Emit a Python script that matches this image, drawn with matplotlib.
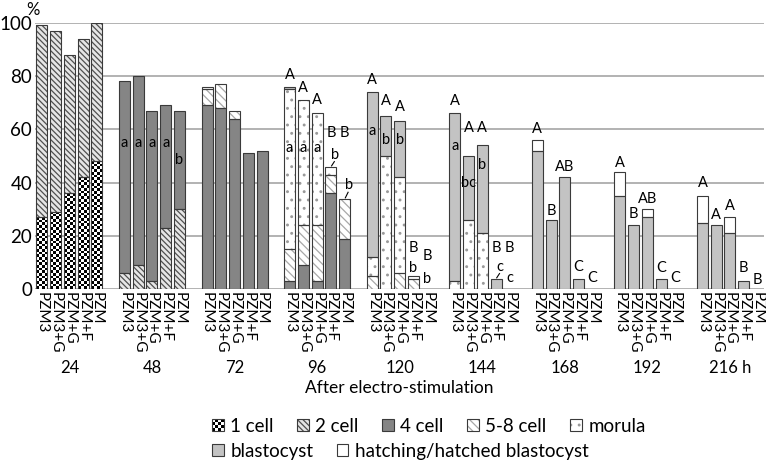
import numpy as np
import matplotlib
matplotlib.use('Agg')
import matplotlib.pyplot as plt
from matplotlib.patches import Rectangle
from matplotlib.legend_handler import HandlerBase
from matplotlib.transforms import blended_transform_factory

plt.rcParams['font.family'] = ['Lato', 'DejaVu Sans']
plt.rcParams['hatch.linewidth'] = 0.9

# ---------------- data ----------------
hours = ['24', '48', '72', '96', '120', '144', '168', '192', '216 h']
media = ['PZM3', 'PZM3+G', 'PZM+G', 'PZM+F', 'PZM']
stages = ['1 cell', '2 cell', '4 cell', '5-8 cell', 'morula',
          'blastocyst', 'hatching/hatched blastocyst']

# rows: hours ; columns: media
one_cell = [[27, 29, 36, 42, 48],
            [0, 0, 0, 0, 0], [0, 0, 0, 0, 0], [0, 0, 0, 0, 0], [0, 0, 0, 0, 0],
            [0, 0, 0, 0, 0], [0, 0, 0, 0, 0], [0, 0, 0, 0, 0], [0, 0, 0, 0, 0]]
two_cell = [[72, 68, 52, 52, 52],
            [6, 9, 3, 23, 30],
            [0, 0, 0, 0, 0], [0, 0, 0, 0, 0], [0, 0, 0, 0, 0],
            [0, 0, 0, 0, 0], [0, 0, 0, 0, 0], [0, 0, 0, 0, 0], [0, 0, 0, 0, 0]]
four_cell = [[0, 0, 0, 0, 0],
             [72, 71, 64, 46, 37],
             [69, 68, 64, 51, 52],
             [3, 9, 3, 36, 19],
             [0, 0, 0, 0, 0], [0, 0, 0, 0, 0], [0, 0, 0, 0, 0], [0, 0, 0, 0, 0], [0, 0, 0, 0, 0]]
five_eight = [[0, 0, 0, 0, 0], [0, 0, 0, 0, 0],
              [6, 9, 3, 0, 0],
              [12, 15, 21, 7, 15],
              [5, 0, 6, 4, 0],
              [0, 0, 0, 0, 0], [0, 0, 0, 0, 0], [0, 0, 0, 0, 0], [0, 0, 0, 0, 0]]
morula = [[0, 0, 0, 0, 0], [0, 0, 0, 0, 0],
          [1, 0, 0, 0, 0],
          [60, 47, 42, 3, 0],
          [7, 50, 36, 1, 0],
          [3, 26, 21, 0, 0],
          [0, 0, 0, 0, 0], [0, 0, 0, 0, 0], [0, 0, 0, 0, 0]]
blastocyst = [[0, 0, 0, 0, 0], [0, 0, 0, 0, 0], [0, 0, 0, 0, 0],
              [1, 0, 0, 0, 0],
              [62, 15, 21, 0, 0],
              [63, 24, 33, 4, 0],
              [52, 26, 42, 4, 0],
              [35, 24, 27, 4, 0],
              [25, 24, 21, 3, 0]]
hatching = [[0, 0, 0, 0, 0], [0, 0, 0, 0, 0], [0, 0, 0, 0, 0], [0, 0, 0, 0, 0],
            [0, 0, 0, 0, 0], [0, 0, 0, 0, 0],
            [4, 0, 0, 0, 0],
            [9, 0, 3, 0, 0],
            [10, 0, 6, 0, 0]]

# significance letters: (hour index, medium index, text, height in %)
letters = [
    (1, 0, 'a', 55), (1, 1, 'a', 55), (1, 2, 'a', 55), (1, 3, 'a', 55), (1, 4, 'b', 48.5),
    (3, 0, 'A', 80.5), (3, 1, 'A', 75.5), (3, 2, 'A', 71), (3, 3, 'B', 58.5), (3, 4, 'B', 58.5),
    (3, 0, 'a', 53), (3, 1, 'a', 53), (3, 2, 'a', 53),
    (4, 0, 'A', 78.5), (4, 1, 'A', 70.5), (4, 2, 'A', 68.5), (4, 3, 'B', 15.5), (4, 4, 'B', 12.5),
    (4, 0, 'a', 59.5), (4, 1, 'b', 56), (4, 2, 'b', 56), (4, 3, 'b', 8), (4, 4, 'b', 3.8),
    (5, 0, 'A', 70.7), (5, 1, 'A', 60.4), (5, 2, 'A', 60.4), (5, 3, 'B', 15.4), (5, 4, 'B', 15.4),
    (5, 0, 'a', 53.7), (5, 1, 'bc', 40), (5, 2, 'b', 46.6), (5, 4, 'c', 4.1),
    (6, 0, 'A', 60), (6, 1, 'B', 29.4), (6, 2, 'AB', 45.7), (6, 3, 'C', 8.5), (6, 4, 'C', 4.4),
    (7, 0, 'A', 47.2), (7, 1, 'B', 28.2), (7, 2, 'AB', 33.7), (7, 3, 'C', 8), (7, 4, 'C', 4.1),
    (8, 0, 'A', 39.7), (8, 1, 'A', 27.7), (8, 2, 'A', 31.2), (8, 3, 'B', 7.9), (8, 4, 'B', 3.5),
]
# letters joined to their bar with a short leader line
leader_letters = [(3, 3, 'b', 50.5), (3, 4, 'b', 39), (5, 3, 'c', 8.5)]

# ---------------- styles ----------------
styles = [
    dict(face='white', hatch=None, hc='black'),              # 1 cell (checker drawn below)
    dict(face='#e6e6e6', hatch='\\\\\\\\\\\\', hc='#505050'),  # 2 cell
    dict(face='#858585', hatch=None, hc='#858585'),          # 4 cell
    dict(face='white', hatch='\\\\\\\\', hc='#a8a8a8'),        # 5-8 cell
    dict(face='white', hatch='..', hc='#9a9a9a'),            # morula
    dict(face='#c3c3c3', hatch=None, hc='#c3c3c3'),          # blastocyst
    dict(face='white', hatch=None, hc='white'),              # hatching
]
EDGE = '#3a3a3a'

fig = plt.figure(figsize=(7.66, 4.61), dpi=100)
ax = fig.add_axes([35 / 766, 1 - 289.3 / 461, (764.4 - 35) / 766, (289.3 - 22.7) / 461])
ax.set_xlim(-0.5, 52.5)
ax.set_ylim(0, 100)

ng, nm = len(hours), len(media)
slots = np.array([g * (nm + 1) + i for g in range(ng) for i in range(nm)], dtype=float)
data = [np.array(d, dtype=float).ravel() for d in
        (one_cell, two_cell, four_cell, five_eight, morula, blastocyst, hatching)]
W = 0.8

bottom = np.zeros_like(slots)
for s, vals in enumerate(data):
    st = styles[s]
    m = vals > 0
    if m.any():
        bars = ax.bar(slots[m], vals[m], bottom=bottom[m], width=W,
                      color=st['face'], edgecolor=st['hc'], linewidth=0,
                      hatch=st['hatch'], zorder=2)
        if s == 0:
            for rect in bars:
                x0, y0 = rect.get_x(), rect.get_y()
                w, h = rect.get_width(), rect.get_height()
                p0 = ax.transData.transform((x0, y0))
                p1 = ax.transData.transform((x0 + w, y0 + h))
                nx = max(1, int(round(abs(p1[0] - p0[0]) / 2.7)))
                ny = max(1, int(round(abs(p1[1] - p0[1]) / 2.7)))
                chk = np.add.outer(np.arange(ny), np.arange(nx)) % 2
                im = ax.imshow(chk, cmap='gray', vmin=0, vmax=1, origin='lower',
                               extent=(x0, x0 + w, y0, y0 + h), interpolation='nearest',
                               aspect='auto', zorder=2.5)
                im.set_clip_path(rect)
        ax.bar(slots[m], vals[m], bottom=bottom[m], width=W, fill=False,
               edgecolor=EDGE, linewidth=0.8, zorder=3)
    bottom = bottom + vals

ax.set_xlim(-0.5, 52.5)
ax.set_ylim(0, 100)

totals = bottom.reshape(ng, nm)
for g, i, t, y in letters:
    ax.text(g * (nm + 1) + i, y, t, ha='center', va='center', fontsize=10.5, zorder=4)
for g, i, t, y in leader_letters:
    x = g * (nm + 1) + i
    ax.text(x + 0.3, y, t, ha='center', va='center', fontsize=10.5, zorder=4)
    ax.plot([x + 0.05, x + 0.25], [totals[g, i] + 0.3, y - 2.6], color='black', lw=0.8, zorder=4)

# axes styling
for sp in ax.spines.values():
    sp.set_visible(False)
ax.set_yticks(range(0, 101, 20))
ax.yaxis.grid(True, color='#a6a6a6', lw=1.2)
ax.set_axisbelow(True)
ax.tick_params(axis='y', length=0, labelsize=13.5, pad=2)
ax.set_xticks(slots)
ax.set_xticklabels(media * ng, rotation=-90, fontsize=11)
ax.tick_params(axis='x', length=0, pad=2)

btr = blended_transform_factory(ax.transData, ax.transAxes)
for g, hname in enumerate(hours):
    ax.text(g * (nm + 1) + (nm - 1) / 2, -0.297, hname, transform=btr,
            ha='center', va='center', fontsize=12)
ax.text(0.5, -0.372, 'After electro-stimulation', transform=ax.transAxes,
        ha='center', va='center', fontsize=12.5)
ax.text(-0.003, 1.048, '%', transform=ax.transAxes, ha='center', va='center', fontsize=12)


# ---------------- legend ----------------
class StageHandle:
    def __init__(self, idx):
        self.idx = idx


class StageHandler(HandlerBase):
    def create_artists(self, legend, orig_handle, xdescent, ydescent, width, height,
                       fontsize, trans):
        st = styles[orig_handle.idx]
        x0, y0 = -xdescent, -ydescent
        arts = [Rectangle((x0, y0), width, height, facecolor=st['face'],
                          edgecolor=st['hc'], lw=0, hatch=st['hatch'], transform=trans)]
        if orig_handle.idx == 0:
            n = 4
            cw, chh = width / n, height / n
            for r in range(n):
                for c in range(n):
                    if (r + c) % 2 == 0:
                        arts.append(Rectangle((x0 + c * cw, y0 + r * chh), cw, chh,
                                              facecolor='black', edgecolor='none',
                                              transform=trans))
        arts.append(Rectangle((x0, y0), width, height, fill=False, edgecolor=EDGE,
                              lw=0.8, transform=trans))
        return arts


handles = [StageHandle(k) for k in range(len(stages))]
hmap = {StageHandle: StageHandler()}
common = dict(frameon=False, fontsize=13.5, handlelength=0.62, handleheight=0.55,
              handletextpad=0.35, columnspacing=1.25, borderpad=0, borderaxespad=0,
              handler_map=hmap, loc='center left', bbox_transform=fig.transFigure)
leg1 = ax.legend(handles[:5], stages[:5], ncol=5, bbox_to_anchor=(212 / 766, 1 - 426 / 461),
                 **common)
ax.add_artist(leg1)
leg2 = ax.legend(handles[5:], stages[5:], ncol=2, bbox_to_anchor=(212 / 766, 1 - 451 / 461),
                 **common)

fig.savefig('out.png', dpi=100)
